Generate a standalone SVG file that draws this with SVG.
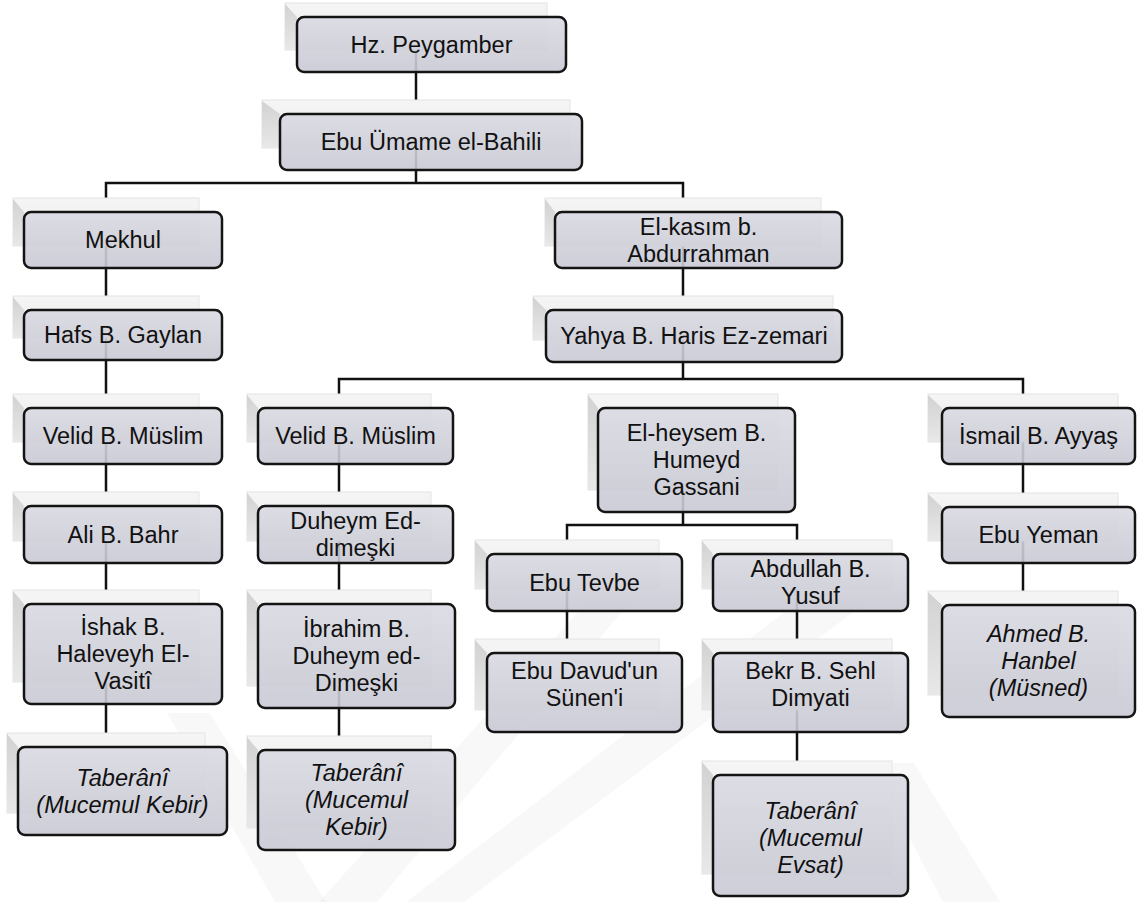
<svg xmlns="http://www.w3.org/2000/svg" width="1137" height="902" viewBox="0 0 1137 902">
<defs>
<linearGradient id="gm" x1="0" y1="0" x2="0" y2="1">
<stop offset="0" stop-color="#dadae3" stop-opacity="0.9"/>
<stop offset="1" stop-color="#c9c9d4" stop-opacity="0.9"/>
</linearGradient>
<linearGradient id="gb" x1="0" y1="0" x2="0" y2="1">
<stop offset="0" stop-color="#f5f5f5"/>
<stop offset="1" stop-color="#ebebeb"/>
</linearGradient>
<linearGradient id="gv" x1="0" y1="0" x2="0" y2="1">
<stop offset="0" stop-color="#d2d2d2"/>
<stop offset="1" stop-color="#e8e8e8"/>
</linearGradient>
<style>
.bk{fill:url(#gb);stroke:#e4e4e4;stroke-width:1}
.bv{fill:url(#gv)}
.mn{fill:url(#gm);stroke:#141414;stroke-width:2.5}
.t{font-family:"Liberation Sans",Arial,sans-serif;font-size:23.5px;fill:#111;text-anchor:middle}
.i{font-style:italic}
.c{fill:none;stroke:#111;stroke-width:2.5}
.w{fill:#000;fill-opacity:0.028}
</style>
</defs>
<rect width="1137" height="902" fill="#fff"/>
<g id="watermark">
<polygon class="w" points="167,713 210,713 326,902 275,902"/>
<polygon class="w" points="319,902 377,902 638,593 595,593"/>
<polygon class="w" points="406,902 464,902 870,600 800,600"/>
<polygon class="w" points="870,763 914,763 1000,902 943,902"/>
</g>
<g id="connectors">
<path class="c" d="M416 44V100"/>
<path class="c" d="M416 142V183M106 198V183H683V198"/>
<path class="c" d="M106 240V296M106 335V394M106 436V492M106 534V590M106 654V733"/>
<path class="c" d="M683 240V296M683 336V379M339 394V379H1023V394"/>
<path class="c" d="M339 436V492M339 534V590M339 656V736"/>
<path class="c" d="M683 460V525M567 540V525H797V540"/>
<path class="c" d="M567 582V639M797 582V639M797 692V761"/>
<path class="c" d="M1023 436V493M1023 535V591"/>
</g>
<g id="n-hz"><rect class="bk" x="285" y="3" width="262" height="47"/><polygon class="bv" points="285,4 297,17 297,50 285,50"/><rect class="mn" x="297" y="17" width="269" height="55" rx="7"/><text class="t" x="431.5" y="52.5">Hz. Peygamber</text></g>
<g id="n-umame"><rect class="bk" x="262" y="100" width="308" height="48"/><polygon class="bv" points="262,101 280,114 280,148 262,148"/><rect class="mn" x="280" y="114" width="302" height="56" rx="7"/><text class="t" x="431" y="150">Ebu Ümame el-Bahili</text></g>
<g id="n-mekhul"><rect class="bk" x="13" y="198" width="186" height="48"/><polygon class="bv" points="13,199 24,212 24,246 13,246"/><rect class="mn" x="24" y="212" width="198" height="56" rx="7"/><text class="t" x="123" y="248">Mekhul</text></g>
<g id="n-kasim"><rect class="bk" x="545" y="198" width="276" height="48"/><polygon class="bv" points="545,199 555,212 555,246 545,246"/><rect class="mn" x="555" y="212" width="287" height="56" rx="7"/><text class="t" x="698.5" y="234.5">El-kasım b.</text><text class="t" x="698.5" y="261.5">Abdurrahman</text></g>
<g id="n-hafs"><rect class="bk" x="13" y="296" width="186" height="42"/><polygon class="bv" points="13,297 24,310 24,338 13,338"/><rect class="mn" x="24" y="310" width="198" height="50" rx="7"/><text class="t" x="123" y="343">Hafs B. Gaylan</text></g>
<g id="n-yahya"><rect class="bk" x="533" y="296" width="300" height="44"/><polygon class="bv" points="533,297 546,310 546,340 533,340"/><rect class="mn" x="546" y="310" width="296" height="52" rx="7"/><text class="t" x="694" y="344">Yahya B. Haris Ez-zemari</text></g>
<g id="n-velid1"><rect class="bk" x="13" y="394" width="186" height="48"/><polygon class="bv" points="13,395 24,408 24,442 13,442"/><rect class="mn" x="24" y="408" width="198" height="56" rx="7"/><text class="t" x="123" y="444">Velid B. Müslim</text></g>
<g id="n-velid2"><rect class="bk" x="247" y="394" width="184" height="48"/><polygon class="bv" points="247,395 258,408 258,442 247,442"/><rect class="mn" x="258" y="408" width="195" height="56" rx="7"/><text class="t" x="355.5" y="444">Velid B. Müslim</text></g>
<g id="n-heysem"><rect class="bk" x="588" y="394" width="190" height="96"/><polygon class="bv" points="588,395 598,408 598,490 588,490"/><rect class="mn" x="598" y="408" width="197" height="104" rx="7"/><text class="t" x="696.5" y="441">El-heysem B.</text><text class="t" x="696.5" y="468">Humeyd</text><text class="t" x="696.5" y="495">Gassani</text></g>
<g id="n-ismail"><rect class="bk" x="928" y="394" width="190" height="48"/><polygon class="bv" points="928,395 942,408 942,442 928,442"/><rect class="mn" x="942" y="408" width="193" height="56" rx="7"/><text class="t" x="1038.5" y="444">İsmail B. Ayyaş</text></g>
<g id="n-ali"><rect class="bk" x="13" y="492" width="186" height="49"/><polygon class="bv" points="13,493 24,506 24,541 13,541"/><rect class="mn" x="24" y="506" width="198" height="57" rx="7"/><text class="t" x="123" y="542.5">Ali B. Bahr</text></g>
<g id="n-duheym"><rect class="bk" x="247" y="492" width="184" height="49"/><polygon class="bv" points="247,493 258,506 258,541 247,541"/><rect class="mn" x="258" y="506" width="195" height="57" rx="7"/><text class="t" x="355.5" y="529">Duheym Ed-</text><text class="t" x="355.5" y="556">dimeşki</text></g>
<g id="n-yeman"><rect class="bk" x="928" y="493" width="190" height="48"/><polygon class="bv" points="928,494 942,507 942,541 928,541"/><rect class="mn" x="942" y="507" width="193" height="56" rx="7"/><text class="t" x="1038.5" y="543">Ebu Yeman</text></g>
<g id="n-tevbe"><rect class="bk" x="475" y="540" width="184" height="49"/><polygon class="bv" points="475,541 487,554 487,589 475,589"/><rect class="mn" x="487" y="554" width="195" height="57" rx="7"/><text class="t" x="584.5" y="590.5">Ebu Tevbe</text></g>
<g id="n-abdullah"><rect class="bk" x="702" y="540" width="190" height="49"/><polygon class="bv" points="702,541 713,554 713,589 702,589"/><rect class="mn" x="713" y="554" width="195" height="57" rx="7"/><text class="t" x="810.5" y="577">Abdullah B.</text><text class="t" x="810.5" y="604">Yusuf</text></g>
<g id="n-ishak"><rect class="bk" x="13" y="590" width="186" height="92"/><polygon class="bv" points="13,591 24,604 24,682 13,682"/><rect class="mn" x="24" y="604" width="198" height="100" rx="7"/><text class="t" x="123" y="635">İshak B.</text><text class="t" x="123" y="662">Haleveyh El-</text><text class="t" x="123" y="689">Vasitî</text></g>
<g id="n-ibrahim"><rect class="bk" x="247" y="590" width="184" height="96"/><polygon class="bv" points="247,591 258,604 258,686 247,686"/><rect class="mn" x="258" y="604" width="197" height="104" rx="7"/><text class="t" x="356.5" y="637">İbrahim B.</text><text class="t" x="356.5" y="664">Duheym ed-</text><text class="t" x="356.5" y="691">Dimeşki</text></g>
<g id="n-ahmed"><rect class="bk" x="928" y="591" width="190" height="104"/><polygon class="bv" points="928,592 942,605 942,695 928,695"/><rect class="mn" x="942" y="605" width="193" height="112" rx="7"/><text class="t i" x="1038.5" y="642">Ahmed B.</text><text class="t i" x="1038.5" y="669">Hanbel</text><text class="t i" x="1038.5" y="696">(Müsned)</text></g>
<g id="n-davud"><rect class="bk" x="475" y="639" width="184" height="71"/><polygon class="bv" points="475,640 487,653 487,710 475,710"/><rect class="mn" x="487" y="653" width="195" height="79" rx="7"/><text class="t" x="584.5" y="679">Ebu Davud'un</text><text class="t" x="584.5" y="706">Sünen'i</text></g>
<g id="n-bekr"><rect class="bk" x="702" y="639" width="190" height="71"/><polygon class="bv" points="702,640 713,653 713,710 702,710"/><rect class="mn" x="713" y="653" width="195" height="79" rx="7"/><text class="t" x="810.5" y="679">Bekr B. Sehl</text><text class="t" x="810.5" y="706">Dimyati</text></g>
<g id="n-tabL"><rect class="bk" x="7" y="733" width="198" height="80"/><polygon class="bv" points="7,734 18,747 18,813 7,813"/><rect class="mn" x="18" y="747" width="209" height="88" rx="7"/><text class="t i" x="122.5" y="785.5">Taberânî</text><text class="t i" x="122.5" y="812.5">(Mucemul Kebir)</text></g>
<g id="n-tabM"><rect class="bk" x="247" y="736" width="184" height="92"/><polygon class="bv" points="247,737 258,750 258,828 247,828"/><rect class="mn" x="258" y="750" width="197" height="100" rx="7"/><text class="t i" x="356.5" y="781">Taberânî</text><text class="t i" x="356.5" y="808">(Mucemul</text><text class="t i" x="356.5" y="835">Kebir)</text></g>
<g id="n-tabE"><rect class="bk" x="702" y="761" width="190" height="113"/><polygon class="bv" points="702,762 713,775 713,874 702,874"/><rect class="mn" x="713" y="775" width="195" height="121" rx="7"/><text class="t i" x="810.5" y="819">Taberânî</text><text class="t i" x="810.5" y="846">(Mucemul</text><text class="t i" x="810.5" y="873">Evsat)</text></g>
</svg>
